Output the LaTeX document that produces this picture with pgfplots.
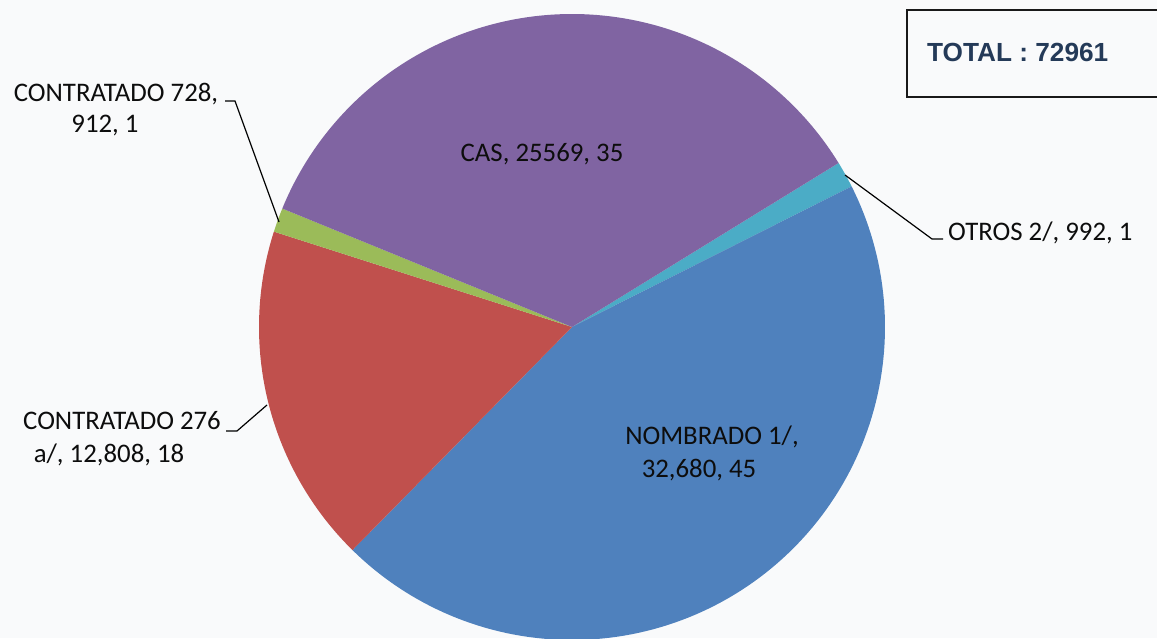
\documentclass[border=0pt]{standalone}
\usepackage{pgfplots}
\pgfplotsset{compat=1.18}
\usepackage{pgfplotstable}
\usepackage{fontspec}
\setmainfont{Carlito}
\newfontfamily\arialfont{Liberation Sans}
\definecolor{cNom}{HTML}{4F81BD}
\definecolor{cC276}{HTML}{C0504D}
\definecolor{cC728}{HTML}{9BBB59}
\definecolor{cCAS}{HTML}{8064A2}
\definecolor{cOtr}{HTML}{4BACC6}
\definecolor{bg}{HTML}{F9FAFB}
\definecolor{totc}{HTML}{243A58}

\pgfplotstableread{
name value
Nombrado 32680
Contratado276 12808
Contratado728 912
CAS 25569
Otros 992
}\piedata

\pgfplotstablegetelem{0}{value}\of\piedata \let\vA\pgfplotsretval
\pgfplotstablegetelem{1}{value}\of\piedata \let\vB\pgfplotsretval
\pgfplotstablegetelem{2}{value}\of\piedata \let\vC\pgfplotsretval
\pgfplotstablegetelem{3}{value}\of\piedata \let\vD\pgfplotsretval
\pgfplotstablegetelem{4}{value}\of\piedata \let\vE\pgfplotsretval
\edef\tot{\fpeval{\vA+\vB+\vC+\vD+\vE}}
% clockwise from the CAS/OTROS boundary
\edef\aO{31.6}
\edef\aE{\fpeval{\aO-360*\vE/\tot}}
\edef\aA{\fpeval{\aE-360*\vA/\tot}}
\edef\aB{\fpeval{\aA-360*\vB/\tot}}
\edef\aC{\fpeval{\aB-360*\vC/\tot}}
\edef\aD{\fpeval{\aC-360*\vD/\tot}}

\begin{document}
\begin{tikzpicture}
\useasboundingbox (0,0) rectangle (1157pt,638pt);
\clip (0,0) rectangle (1157pt,638pt);
\fill[bg] (0,0) rectangle (1157pt,638pt);
\begin{axis}[hide axis, x=1pt, y=1pt, xmin=-572, xmax=585, ymin=-311, ymax=327,
  clip=true, samples=120]
\addplot[fill=cOtr, draw=none, domain=\aE:\aO] ({313*cos(x)},{313*sin(x)}) -- (axis cs:0,0) -- cycle;
\addplot[fill=cNom, draw=none, domain=\aA:\aE] ({313*cos(x)},{313*sin(x)}) -- (axis cs:0,0) -- cycle;
\addplot[fill=cC276, draw=none, domain=\aB:\aA] ({313*cos(x)},{313*sin(x)}) -- (axis cs:0,0) -- cycle;
\addplot[fill=cC728, draw=none, domain=\aC:\aB] ({313*cos(x)},{313*sin(x)}) -- (axis cs:0,0) -- cycle;
\addplot[fill=cCAS, draw=none, domain=\aD:\aC] ({313*cos(x)},{313*sin(x)}) -- (axis cs:0,0) -- cycle;
% leader lines
\addplot[black, line width=1.2pt, mark=none] coordinates {(-347,226) (-337,226) (-293,105)};
\addplot[black, line width=1.2pt, mark=none] coordinates {(273,152) (360,88) (371,88)};
\addplot[black, line width=1.2pt, mark=none] coordinates {(-346,-104) (-335,-104) (-305,-78)};
% labels
\begin{scope}[every node/.style={font=\fontsize{26.8}{32}\selectfont, text=black!95, inner sep=0pt}]
\node[anchor=base] at (axis cs:-456,225) {CONTRATADO 728,};
\node[anchor=base] at (axis cs:-467,194) {912, 1};
\node[anchor=base] at (axis cs:-30,165) {CAS, 25569, 35};
\node[anchor=base west] at (axis cs:376,86) {OTROS 2/, 992, 1};
\node[anchor=base] at (axis cs:-450,-102) {CONTRATADO 276};
\node[anchor=base] at (axis cs:-463,-135) {a/, 12,808, 18};
\node[anchor=base] at (axis cs:140,-117) {NOMBRADO 1/,};
\node[anchor=base] at (axis cs:127,-150) {32,680, 45};
\end{scope}
% total box
\addplot[draw=black!90, line width=2pt, mark=none] coordinates {(600,317) (335,317) (335,230) (600,230)};
\node[anchor=base west, inner sep=0pt, text=totc, font=\arialfont\bfseries\fontsize{26.2}{30}\selectfont] at (axis cs:355,265) {TOTAL : 72961};
\end{axis}
\end{tikzpicture}
\end{document}
